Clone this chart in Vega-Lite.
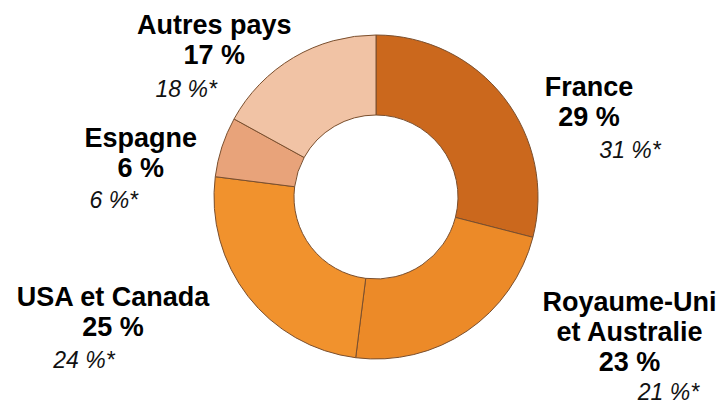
{
  "$schema": "https://vega.github.io/schema/vega-lite/v6.json",
  "width": 720,
  "height": 406,
  "autosize": {"type": "fit", "contains": "padding"},
  "padding": {"left": 32, "right": 0, "top": 0, "bottom": 6},
  "background": "white",
  "data": {
    "values": [
      {"rank": 1, "cat": "France", "name": "France", "share": 29, "prev": 31},
      {"rank": 2, "cat": "UK", "name": "Royaume-Uni\net Australie", "share": 23, "prev": 21},
      {"rank": 3, "cat": "USA", "name": "USA et Canada", "share": 25, "prev": 24},
      {"rank": 4, "cat": "Espagne", "name": "Espagne", "share": 6, "prev": 6},
      {"rank": 5, "cat": "Autres", "name": "Autres pays", "share": 17, "prev": 18}
    ]
  },
  "transform": [
    {"calculate": "datum.name + '\\n' + datum.share + ' %'", "as": "bold"},
    {"calculate": "datum.prev + ' %*'", "as": "italic"}
  ],
  "encoding": {
    "theta": {"field": "share", "type": "quantitative", "stack": true},
    "order": {"field": "rank", "type": "quantitative"}
  },
  "layer": [
    {
      "mark": {"type": "arc", "radius": 162, "radius2": 82, "stroke": "#7a4f2e", "strokeWidth": 1},
      "encoding": {
        "color": {
          "field": "cat",
          "type": "nominal",
          "legend": null,
          "scale": {
            "domain": ["France", "UK", "USA", "Espagne", "Autres"],
            "range": ["#cb681d", "#ec8a28", "#f1922d", "#e8a37a", "#f1c3a5"]
          }
        }
      }
    },
    {
      "mark": {
        "type": "text",
        "radius": 200,
        "align": "center",
        "baseline": "alphabetic",
        "lineBreak": "\n",
        "lineHeight": 30,
        "font": "Liberation Sans",
        "fontSize": 27,
        "fontWeight": "bold",
        "color": "#000000",
        "dx": {"expr": "datum.cat == 'France' ? 55 : datum.cat == 'UK' ? 141 : datum.cat == 'USA' ? -105 : datum.cat == 'Espagne' ? -45 : -60"},
        "dy": {"expr": "datum.cat == 'France' ? 22 : datum.cat == 'UK' ? -51 : datum.cat == 'USA' ? -14 : datum.cat == 'Espagne' ? 12 : 9"}
      },
      "encoding": {"text": {"field": "bold"}}
    },
    {
      "mark": {
        "type": "text",
        "radius": 200,
        "align": "center",
        "baseline": "alphabetic",
        "font": "Liberation Sans",
        "fontSize": 23,
        "fontStyle": "italic",
        "color": "#111111",
        "dx": {"expr": "datum.cat == 'France' ? 96 : datum.cat == 'UK' ? 180 : datum.cat == 'USA' ? -134 : datum.cat == 'Espagne' ? -72 : -88"},
        "dy": {"expr": "datum.cat == 'France' ? 84 : datum.cat == 'UK' ? 38 : datum.cat == 'USA' ? 48 : datum.cat == 'Espagne' ? 73 : 72"}
      },
      "encoding": {"text": {"field": "italic"}}
    }
  ]
}
